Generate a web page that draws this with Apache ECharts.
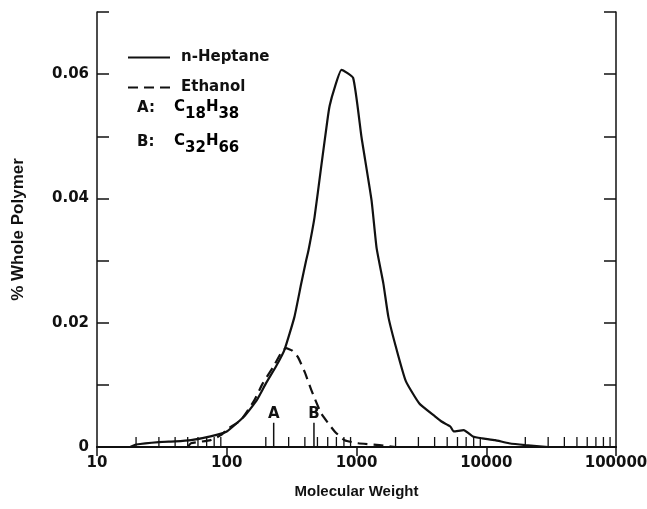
<!DOCTYPE html>
<html><head><meta charset="utf-8">
<script src="https://cdn.jsdelivr.net/npm/echarts@6/dist/echarts.min.js"></script>
<style>html,body{margin:0;padding:0;background:#fff}#c{width:647px;height:509px}</style>
</head><body><div id="c"></div>
<script>
// n-Heptane fraction: [molecular weight, % whole polymer]
const heptane = [[18,0],[20,0.0004],[30,0.0008],[40,0.0009],[53,0.0011],[75,0.0017],[100,0.0025],[136,0.0049],[170,0.0075],[200,0.0102],[240,0.013],[278,0.0156],[332,0.0209],[375,0.0263],[409,0.030],[427,0.0317],[475,0.037],[532,0.0448],[596,0.0525],[621,0.0549],[678,0.0578],[766,0.0607],[942,0.0594],[1094,0.0498],[1306,0.0397],[1429,0.032],[1611,0.0263],[1762,0.0209],[2042,0.0156],[2400,0.0106],[3050,0.007],[4047,0.0049],[4520,0.0041],[5286,0.0033],[5610,0.0025],[6700,0.0027],[7880,0.0017],[9300,0.0014],[11700,0.0011],[14960,0.0006],[20000,0.0003],[30000,0]];
// Ethanol fraction
const ethanol = [[50,0],[53,0.0006],[75,0.0011],[90,0.0019],[103,0.003],[128,0.0043],[163,0.0075],[189,0.0102],[230,0.013],[260,0.015],[286,0.0159],[320,0.0155],[353,0.0145],[400,0.012],[448,0.0092],[535,0.0054],[679,0.0025],[810,0.0011],[1030,0.0006],[1500,0.0003],[2000,0]];
// reference markers (n-alkanes)
const markerNames = ['A','B'];
const markerMW = [230, 470];
const markerHeight = [0.0039, 0.0039];
// axis ticks
const yLabelValues = [0, 0.02, 0.04, 0.06];
const xDecades = [10, 100, 1000, 10000, 100000];
const minorMultipliers = [2,3,4,5,6,7,8,9];
// key texts
const keyLetters = ['A:', 'B:'];
const keyFormulas = [['C','18','H','38'], ['C','32','H','66']];

const minorTicks = [];
xDecades.slice(0, -1).forEach(d => minorMultipliers.forEach(m => minorTicks.push([d*m, 0])));
const markerData = markerMW.map((v,i) => [v, markerHeight[i], markerNames[i]]);

const FONT = '"DejaVu Sans", sans-serif';
const TFONT = '"Liberation Sans", Arial, sans-serif';
const richStyles = {
  n: {fontFamily: FONT, fontWeight: 'bold', fontSize: 15, color: '#111', verticalAlign: 'top', lineHeight: 22},
  s: {fontFamily: FONT, fontWeight: 'bold', fontSize: 15, color: '#111', verticalAlign: 'bottom', lineHeight: 22, padding: [8,0,0,0]}
};
const keyGraphics = [];
keyLetters.forEach((l, i) => {
  const top = 99 + i * 34;
  keyGraphics.push({type: 'text', left: 137, top: top + 2,
    style: {text: l, font: 'bold 15px ' + FONT, fill: '#111'}});
  const f = keyFormulas[i];
  keyGraphics.push({type: 'text', left: 174, top: top,
    style: {text: '{n|' + f[0] + '}{s|' + f[1] + '}{n|' + f[2] + '}{s|' + f[3] + '}', rich: richStyles}});
});

const chart = echarts.init(document.getElementById('c'));
chart.setOption({
  animation: false,
  backgroundColor: '#fff',
  grid: {left: 97, right: 31, top: 12, bottom: 62, outerBoundsMode: 'none', containLabel: false},
  legend: {
    orient: 'vertical', left: 122, top: 45, itemWidth: 42, itemHeight: 14, itemGap: 15,
    itemStyle: {opacity: 0},
    textStyle: {fontFamily: FONT, fontWeight: 'bold', fontSize: 15, color: '#111', padding: [0,0,0,6]},
    data: ['n-Heptane', 'Ethanol']
  },
  xAxis: [{
    type: 'log', logBase: 10, min: 10, max: 100000, position: 'bottom',
    name: 'Molecular Weight', nameLocation: 'middle', nameGap: 37,
    nameTextStyle: {fontFamily: TFONT, fontWeight: 'bold', fontSize: 15, color: '#111'},
    axisLine: {lineStyle: {color: '#111', width: 2}},
    axisTick: {show: false},
    splitLine: {show: false},
    axisLabel: {fontFamily: FONT, fontWeight: 'bold', fontSize: 15, color: '#111', margin: 9,
      formatter: v => String(Math.round(v))}
  }, {
    type: 'log', logBase: 10, min: 10, max: 100000, position: 'top',
    axisLine: {lineStyle: {color: '#111', width: 1.5}},
    axisTick: {inside: true, length: 9, lineStyle: {color: '#111', width: 1.5}},
    axisLabel: {show: false}, splitLine: {show: false}
  }],
  yAxis: [{
    type: 'value', min: 0, max: 0.07, interval: 0.01, position: 'left',
    name: '% Whole Polymer', nameLocation: 'middle', nameGap: 70,
    nameTextStyle: {fontFamily: TFONT, fontWeight: 'bold', fontSize: 17, color: '#111'},
    axisLine: {show: true, lineStyle: {color: '#111', width: 1.5}},
    axisTick: {show: true, inside: true, length: 12, lineStyle: {color: '#111', width: 1.5}},
    splitLine: {show: false},
    axisLabel: {
      fontFamily: FONT, fontWeight: 'bold', fontSize: 15, color: '#111', margin: 8,
      formatter: v => {
        const hit = yLabelValues.find(t => Math.abs(t - v) < 1e-9);
        if (hit === undefined) return '';
        return hit === 0 ? '0' : hit.toFixed(2);
      }
    }
  }, {
    type: 'value', min: 0, max: 0.07, interval: 0.01, position: 'right',
    axisLine: {show: true, lineStyle: {color: '#111', width: 1.5}},
    axisTick: {show: true, inside: true, length: 12, lineStyle: {color: '#111', width: 1.5}},
    axisLabel: {show: false}, splitLine: {show: false}
  }],
  series: [{
    name: 'n-Heptane', type: 'line', data: heptane, symbol: 'none', smooth: 0.15,
    lineStyle: {color: '#111', width: 2.2}, itemStyle: {color: '#111'}, z: 3
  }, {
    name: 'Ethanol', type: 'line', data: ethanol, symbol: 'none', smooth: 0.15,
    lineStyle: {color: '#111', width: 2.2, type: [10, 6]}, itemStyle: {color: '#111'}, z: 3
  }, {
    name: 'minor', type: 'custom', data: minorTicks, silent: true, z: 2,
    renderItem: (params, api) => {
      const p = api.coord([api.value(0), 0]);
      return {type: 'line', shape: {x1: p[0], y1: p[1], x2: p[0], y2: p[1] - 10},
        style: {stroke: '#111', lineWidth: 1.3}};
    }
  }, {
    name: 'markers', type: 'custom', data: markerData, silent: true, z: 2,
    renderItem: (params, api) => {
      const p0 = api.coord([api.value(0), 0]);
      const p1 = api.coord([api.value(0), api.value(1)]);
      return {type: 'group', children: [
        {type: 'line', shape: {x1: p0[0], y1: p0[1], x2: p1[0], y2: p1[1]}, style: {stroke: '#111', lineWidth: 1.5}},
        {type: 'text', x: p1[0], y: p1[1] - 1, style: {text: markerData[params.dataIndex][2], fill: '#111',
          font: 'bold 15px ' + FONT, textAlign: 'center', textVerticalAlign: 'bottom'}}
      ]};
    }
  }],
  graphic: keyGraphics
});
</script></body></html>
